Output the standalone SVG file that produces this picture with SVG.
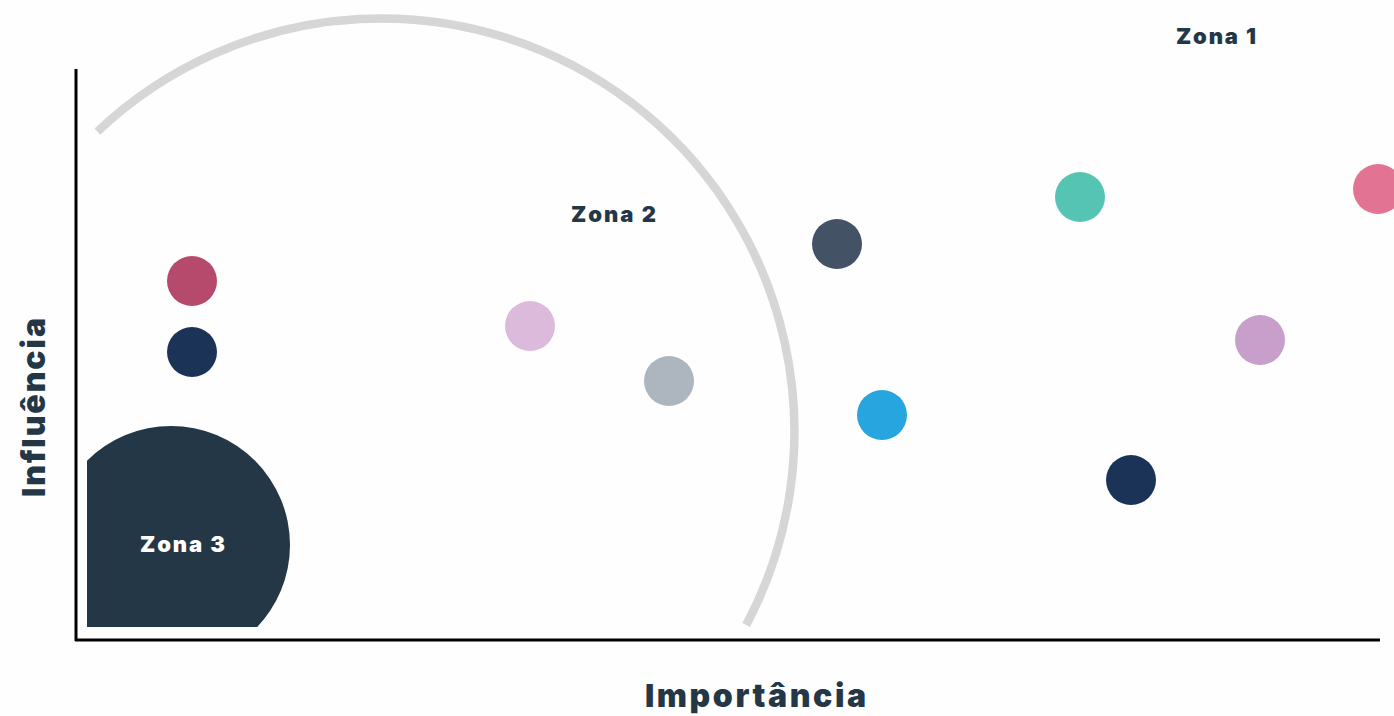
<svg xmlns="http://www.w3.org/2000/svg" width="1394" height="716" viewBox="0 0 1394 716">
<defs>
<style>
.lbl{font-family:Inter,"Noto Sans","Liberation Sans",sans-serif;font-weight:900;fill:#243746}
.zone{font-size:22px}
.axis{font-size:32px}
.dot{stroke:none}
</style>
<clipPath id="plot"><rect x="87" y="0" width="1307" height="627"/></clipPath>
</defs>
<rect width="1394" height="716" fill="#fefefe"/>
<g id="zona3" clip-path="url(#plot)">
<circle cx="171" cy="545" r="119" fill="#243746"/>
</g>
<g id="arc">
<path d="M97.4,131.6 A413,413 0 0 1 746.2,625.1" fill="none" stroke="#d6d6d6" stroke-width="8.5"/>
</g>
<g id="axes" stroke="#000" stroke-width="3" fill="none">
<line x1="76" y1="69" x2="76" y2="641"/>
<line x1="75" y1="640" x2="1380" y2="640"/>
</g>
<g id="dots">
<circle id="d1" class="dot" cx="192" cy="281" r="25" fill="#b54a6c"/>
<circle id="d2" class="dot" cx="192" cy="352" r="25" fill="#1b3356"/>
<circle id="d3" class="dot" cx="530" cy="326" r="25" fill="#dbbadb"/>
<circle id="d4" class="dot" cx="669" cy="381" r="25" fill="#adb5bf"/>
<circle id="d5" class="dot" cx="837" cy="244" r="25" fill="#435264"/>
<circle id="d6" class="dot" cx="882" cy="415" r="25" fill="#26a5de"/>
<circle id="d7" class="dot" cx="1080" cy="197" r="25" fill="#55c4b2"/>
<circle id="d8" class="dot" cx="1378" cy="189" r="25" fill="#e37393"/>
<circle id="d9" class="dot" cx="1260" cy="340" r="25" fill="#c89fcb"/>
<circle id="d10" class="dot" cx="1131" cy="480" r="25" fill="#1b3356"/>
</g>
<g id="labels">
<text class="lbl zone" x="1176" y="44" textLength="80" lengthAdjust="spacing">Zona 1</text>
<text class="lbl zone" x="571" y="222" textLength="85" lengthAdjust="spacing">Zona 2</text>
<text class="lbl zone" x="140" y="552" textLength="85" lengthAdjust="spacing" style="fill:#ffffff">Zona 3</text>
<text class="lbl axis" x="645" y="707" textLength="221" lengthAdjust="spacing">Importância</text>
<text class="lbl axis" transform="translate(45,497) rotate(-90)" textLength="179" lengthAdjust="spacing">Influência</text>
</g>
</svg>
